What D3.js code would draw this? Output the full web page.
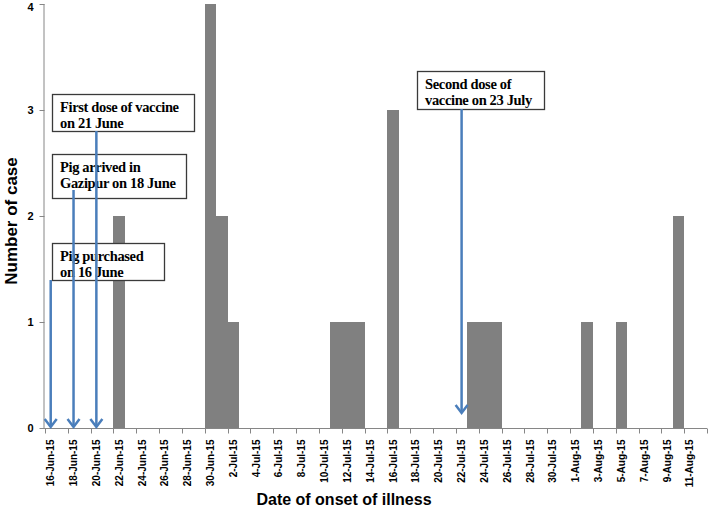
<!DOCTYPE html>
<html>
<head>
<meta charset="utf-8">
<script src="https://cdn.jsdelivr.net/npm/d3@7"></script>
<style>
  body { margin: 0; background: #fff; }
  svg { display: block; }
</style>
</head>
<body>
<svg id="chart" width="709" height="510"></svg>
<script>
// cases per day of onset (dates with no bar have zero cases)
const caseDates = ["2015-06-22", "2015-06-30", "2015-07-01", "2015-07-02",
  "2015-07-11", "2015-07-12", "2015-07-13", "2015-07-16",
  "2015-07-23", "2015-07-24", "2015-07-25",
  "2015-08-02", "2015-08-05", "2015-08-10"];
const caseCounts = [2, 4, 2, 1, 1, 1, 1, 3, 1, 1, 1, 1, 1, 2];

// x axis runs over the day categories 16 Jun .. 12 Aug
const firstDay = "2015-06-16";
const lastDay = "2015-08-12";
const tickLabels = ["16-Jun-15", "18-Jun-15", "20-Jun-15", "22-Jun-15", "24-Jun-15",
  "26-Jun-15", "28-Jun-15", "30-Jun-15", "2-Jul-15", "4-Jul-15", "6-Jul-15",
  "8-Jul-15", "10-Jul-15", "12-Jul-15", "14-Jul-15", "16-Jul-15", "18-Jul-15",
  "20-Jul-15", "22-Jul-15", "24-Jul-15", "26-Jul-15", "28-Jul-15", "30-Jul-15",
  "1-Aug-15", "3-Aug-15", "5-Aug-15", "7-Aug-15", "9-Aug-15", "11-Aug-15"];
const yTicks = [0, 1, 2, 3, 4];

// annotations: text lines and the day each arrow points at
const noteLines = [
  ["First dose of vaccine", "on 21 June"],
  ["Pig arrived in", "Gazipur on 18 June"],
  ["Pig purchased", "on 16 June"],
  ["Second dose of", "vaccine on 23 July"]
];
const noteDays = ["2015-06-20", "2015-06-18", "2015-06-16", "2015-07-22"];

// layout of the annotation boxes (pixels)
const noteBoxes = [
  { x: 52, y: 94, w: 142, h: 37, arrowTop: 131, arrowEnd: 427 },
  { x: 52, y: 154, w: 134, h: 44, arrowTop: 190, arrowEnd: 427 },
  { x: 52, y: 243, w: 112, h: 37, arrowTop: 280, arrowEnd: 427 },
  { x: 417, y: 71, w: 127, h: 38, arrowTop: 109, arrowEnd: 413 }
];

const parse = d3.timeParse("%Y-%m-%d");
const fmtLabel = d3.timeParse("%d-%b-%y");

const margin = { left: 45, right: 2, top: 4, bottom: 82 };
const svg = d3.select("#chart");
const W = +svg.attr("width"), H = +svg.attr("height");

const x = d3.scaleTime()
  .domain([parse(firstDay), d3.timeDay.offset(parse(lastDay), 1)])
  .range([margin.left, W - margin.right]);
const y = d3.scaleLinear().domain([0, 4]).range([H - margin.bottom, margin.top]);

const axisColor = "#868686";
const sans = "'Liberation Sans', Arial, sans-serif";

// bars
const bars = caseDates.map((d, i) => ({ day: parse(d), n: caseCounts[i] }));
svg.append("g").selectAll("rect")
  .data(bars)
  .join("rect")
  .attr("x", d => Math.round(x(d.day)))
  .attr("width", d => Math.round(x(d3.timeDay.offset(d.day, 1))) - Math.round(x(d.day)))
  .attr("y", d => Math.round(y(d.n)))
  .attr("height", d => Math.round(y(0)) - Math.round(y(d.n)))
  .attr("fill", "#808080")
  .attr("shape-rendering", "crispEdges");

// y axis
const yAxis = svg.append("g")
  .attr("transform", `translate(${margin.left - 0.5},0)`)
  .call(d3.axisLeft(y).tickValues(yTicks).tickFormat(d3.format("d")).tickSize(5).tickPadding(6));
yAxis.select(".domain").attr("stroke", axisColor).attr("d", `M-0.5,${y(4)}V${y(0)}`);
yAxis.selectAll(".tick line").attr("stroke", axisColor);
yAxis.selectAll(".tick text")
  .attr("font-family", sans).attr("font-weight", "bold").attr("font-size", 11).attr("fill", "#000")
  .attr("dy", d => d === 4 ? "0.55em" : "0.32em");

// x axis: ticks every 2 days, labels centred on their day
const labelDays = tickLabels.map(t => fmtLabel(t));
const xg = svg.append("g").attr("transform", `translate(0,${y(0) + 0.5})`);
xg.append("line")
  .attr("x1", margin.left - 1).attr("x2", W - margin.right)
  .attr("stroke", axisColor);
xg.selectAll("line.tk")
  .data(labelDays.concat([d3.timeDay.offset(parse(lastDay), 1)]))
  .join("line")
  .attr("class", "tk")
  .attr("x1", d => Math.round(x(d)) + 0.5).attr("x2", d => Math.round(x(d)) + 0.5)
  .attr("y1", 0).attr("y2", 5)
  .attr("stroke", axisColor);
xg.selectAll("text")
  .data(labelDays)
  .join("text")
  .attr("transform", d => {
    const cx = (x(d) + x(d3.timeDay.offset(d, 1))) / 2;
    return `translate(${cx},11) rotate(-90)`;
  })
  .attr("dy", "0.35em")
  .attr("text-anchor", "end")
  .attr("font-family", sans).attr("font-weight", "bold").attr("font-size", 10)
  .text((d, i) => tickLabels[i]);

// axis titles
svg.append("text")
  .attr("transform", `translate(16.5,221) rotate(-90)`)
  .attr("text-anchor", "middle")
  .attr("font-family", sans).attr("font-weight", "bold").attr("font-size", 17)
  .text("Number of case");
svg.append("text")
  .attr("x", (margin.left + W - margin.right) / 2 - 32)
  .attr("y", 505)
  .attr("text-anchor", "middle")
  .attr("font-family", sans).attr("font-weight", "bold").attr("font-size", 16)
  .text("Date of onset of illness");

// annotation boxes
const notes = svg.append("g");
noteBoxes.forEach((b, i) => {
  notes.append("rect")
    .attr("x", b.x + 0.5).attr("y", b.y + 0.5)
    .attr("width", b.w).attr("height", b.h)
    .attr("fill", "#fff").attr("stroke", "#3a3a3a").attr("stroke-width", 1.3);
  noteLines[i].forEach((line, j) => {
    notes.append("text")
      .attr("x", b.x + 8)
      .attr("y", b.y + 17.5 + j * 16)
      .attr("font-family", "'Liberation Serif', 'Times New Roman', serif")
      .attr("font-weight", "bold").attr("font-size", 14.5)
      .attr("letter-spacing", -0.35)
      .text(line);
  });
});

// arrows (drawn over the boxes)
const blue = "#4a7ebb";
noteBoxes.forEach((b, i) => {
  const d = parse(noteDays[i]);
  const ax = (x(d) + x(d3.timeDay.offset(d, 1))) / 2;
  notes.append("line")
    .attr("x1", ax).attr("x2", ax)
    .attr("y1", b.arrowTop).attr("y2", b.arrowEnd - 1)
    .attr("stroke", blue).attr("stroke-width", 2.5);
  notes.append("path")
    .attr("d", `M${ax - 6},${b.arrowEnd - 8}L${ax},${b.arrowEnd}L${ax + 6},${b.arrowEnd - 8}`)
    .attr("fill", "none").attr("stroke", blue).attr("stroke-width", 2.5);
});
</script>
</body>
</html>
